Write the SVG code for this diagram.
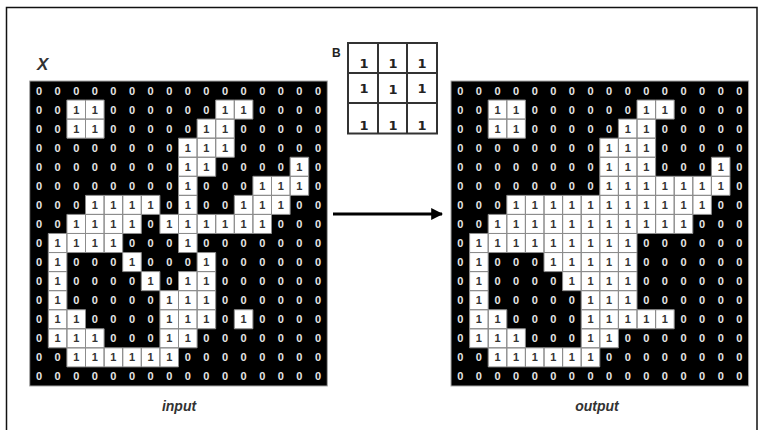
<svg xmlns="http://www.w3.org/2000/svg" width="764" height="430" viewBox="0 0 764 430">
<style>
.g text{font-family:"Liberation Sans",Arial,sans-serif;font-size:11px;font-weight:bold;fill:#e6e6e6;text-anchor:middle}
.g .o{fill:#333;font-weight:bold}
.bg{fill:#000;stroke:#a8a8a8;stroke-width:1}
.cells{fill:#fff;stroke:#8c8c8c;stroke-width:1}
.lbl{font-family:"Liberation Sans",Arial,sans-serif;font-weight:bold;font-style:italic;fill:#333}
.bl{font-family:"Liberation Sans",Arial,sans-serif;font-weight:bold;font-size:12px;fill:#222}
.k text{font-family:"DejaVu Sans","Liberation Sans",sans-serif;font-size:13px;font-weight:bold;fill:#222;text-anchor:middle}
</style>
<defs>
<marker id="ah" viewBox="0 0 10 10" refX="9" refY="5" markerWidth="4" markerHeight="4" orient="auto" markerUnits="strokeWidth">
<path d="M0 0L10 5L0 10z" fill="#000"/>
</marker>
</defs>
<rect x="6.5" y="7.5" width="750.5" height="440" fill="#fff" stroke="#111" stroke-width="1.5"/>
<text class="lbl" x="37" y="70" font-size="17">X</text>
<text class="bl" x="332" y="57">B</text>
<g id="kernel-B" class="k">
<rect x="348" y="43" width="89" height="90.5" fill="#fff" stroke="#333" stroke-width="2"/>
<path d="M378 43V133.5M407 43V133.5M348 73H437M348 103H437" stroke="#333" stroke-width="2" fill="none"/>
<text x="364" y="68">1</text><text x="393" y="68">1</text><text x="422" y="68">1</text>
<text x="364" y="93">1</text><text x="393" y="94">1</text><text x="422" y="93">1</text>
<text x="364" y="129.5">1</text><text x="393" y="129.5">1</text><text x="422" y="129.5">1</text>
</g>
<g id="input-grid" class="g" transform="translate(29.7,81)">
<rect class="bg" x="0" y="0" width="297.6" height="305"/>
<path class="cells" d="M37.2 19.06h18.6v19.06h-18.6zM55.8 19.06h18.6v19.06h-18.6zM186 19.06h18.6v19.06h-18.6zM204.6 19.06h18.6v19.06h-18.6z
M37.2 38.12h18.6v19.06h-18.6zM55.8 38.12h18.6v19.06h-18.6zM167.4 38.12h18.6v19.06h-18.6zM186 38.12h18.6v19.06h-18.6z
M148.8 57.18h18.6v19.06h-18.6zM167.4 57.18h18.6v19.06h-18.6zM186 57.18h18.6v19.06h-18.6z
M148.8 76.24h18.6v19.06h-18.6zM167.4 76.24h18.6v19.06h-18.6zM260.4 76.24h18.6v19.06h-18.6z
M148.8 95.3h18.6v19.06h-18.6zM223.2 95.3h18.6v19.06h-18.6zM241.8 95.3h18.6v19.06h-18.6zM260.4 95.3h18.6v19.06h-18.6z
M55.8 114.36h18.6v19.06h-18.6zM74.4 114.36h18.6v19.06h-18.6zM93 114.36h18.6v19.06h-18.6zM111.6 114.36h18.6v19.06h-18.6zM148.8 114.36h18.6v19.06h-18.6zM204.6 114.36h18.6v19.06h-18.6zM223.2 114.36h18.6v19.06h-18.6zM241.8 114.36h18.6v19.06h-18.6z
M37.2 133.42h18.6v19.06h-18.6zM55.8 133.42h18.6v19.06h-18.6zM74.4 133.42h18.6v19.06h-18.6zM93 133.42h18.6v19.06h-18.6zM130.2 133.42h18.6v19.06h-18.6zM148.8 133.42h18.6v19.06h-18.6zM167.4 133.42h18.6v19.06h-18.6zM186 133.42h18.6v19.06h-18.6zM204.6 133.42h18.6v19.06h-18.6zM223.2 133.42h18.6v19.06h-18.6z
M18.6 152.48h18.6v19.06h-18.6zM37.2 152.48h18.6v19.06h-18.6zM55.8 152.48h18.6v19.06h-18.6zM74.4 152.48h18.6v19.06h-18.6zM148.8 152.48h18.6v19.06h-18.6z
M18.6 171.54h18.6v19.06h-18.6zM93 171.54h18.6v19.06h-18.6zM167.4 171.54h18.6v19.06h-18.6z
M18.6 190.6h18.6v19.06h-18.6zM111.6 190.6h18.6v19.06h-18.6zM148.8 190.6h18.6v19.06h-18.6zM167.4 190.6h18.6v19.06h-18.6z
M18.6 209.66h18.6v19.06h-18.6zM130.2 209.66h18.6v19.06h-18.6zM148.8 209.66h18.6v19.06h-18.6zM167.4 209.66h18.6v19.06h-18.6z
M18.6 228.72h18.6v19.06h-18.6zM37.2 228.72h18.6v19.06h-18.6zM130.2 228.72h18.6v19.06h-18.6zM148.8 228.72h18.6v19.06h-18.6zM167.4 228.72h18.6v19.06h-18.6zM204.6 228.72h18.6v19.06h-18.6z
M18.6 247.78h18.6v19.06h-18.6zM37.2 247.78h18.6v19.06h-18.6zM55.8 247.78h18.6v19.06h-18.6zM130.2 247.78h18.6v19.06h-18.6zM148.8 247.78h18.6v19.06h-18.6z
M37.2 266.84h18.6v19.06h-18.6zM55.8 266.84h18.6v19.06h-18.6zM74.4 266.84h18.6v19.06h-18.6zM93 266.84h18.6v19.06h-18.6zM111.6 266.84h18.6v19.06h-18.6zM130.2 266.84h18.6v19.06h-18.6z"/>
<text x="9.3 27.9 46.5 65.1 83.7 102.3 120.9 139.5 158.1 176.7 195.3 213.9 232.5 251.1 269.7 288.3" y="13.5">0000000000000000</text>
<text x="9.3 27.9 46.5 65.1 83.7 102.3 120.9 139.5 158.1 176.7 195.3 213.9 232.5 251.1 269.7 288.3" y="32.56">00<tspan class="o">11</tspan>000000<tspan class="o">11</tspan>0000</text>
<text x="9.3 27.9 46.5 65.1 83.7 102.3 120.9 139.5 158.1 176.7 195.3 213.9 232.5 251.1 269.7 288.3" y="51.62">00<tspan class="o">11</tspan>00000<tspan class="o">11</tspan>00000</text>
<text x="9.3 27.9 46.5 65.1 83.7 102.3 120.9 139.5 158.1 176.7 195.3 213.9 232.5 251.1 269.7 288.3" y="70.68">00000000<tspan class="o">111</tspan>00000</text>
<text x="9.3 27.9 46.5 65.1 83.7 102.3 120.9 139.5 158.1 176.7 195.3 213.9 232.5 251.1 269.7 288.3" y="89.74">00000000<tspan class="o">11</tspan>0000<tspan class="o">1</tspan>0</text>
<text x="9.3 27.9 46.5 65.1 83.7 102.3 120.9 139.5 158.1 176.7 195.3 213.9 232.5 251.1 269.7 288.3" y="108.8">00000000<tspan class="o">1</tspan>000<tspan class="o">111</tspan>0</text>
<text x="9.3 27.9 46.5 65.1 83.7 102.3 120.9 139.5 158.1 176.7 195.3 213.9 232.5 251.1 269.7 288.3" y="127.86">000<tspan class="o">1111</tspan>0<tspan class="o">1</tspan>00<tspan class="o">111</tspan>00</text>
<text x="9.3 27.9 46.5 65.1 83.7 102.3 120.9 139.5 158.1 176.7 195.3 213.9 232.5 251.1 269.7 288.3" y="146.92">00<tspan class="o">1111</tspan>0<tspan class="o">111111</tspan>000</text>
<text x="9.3 27.9 46.5 65.1 83.7 102.3 120.9 139.5 158.1 176.7 195.3 213.9 232.5 251.1 269.7 288.3" y="165.98">0<tspan class="o">1111</tspan>000<tspan class="o">1</tspan>0000000</text>
<text x="9.3 27.9 46.5 65.1 83.7 102.3 120.9 139.5 158.1 176.7 195.3 213.9 232.5 251.1 269.7 288.3" y="185.04">0<tspan class="o">1</tspan>000<tspan class="o">1</tspan>000<tspan class="o">1</tspan>000000</text>
<text x="9.3 27.9 46.5 65.1 83.7 102.3 120.9 139.5 158.1 176.7 195.3 213.9 232.5 251.1 269.7 288.3" y="204.1">0<tspan class="o">1</tspan>0000<tspan class="o">1</tspan>0<tspan class="o">11</tspan>000000</text>
<text x="9.3 27.9 46.5 65.1 83.7 102.3 120.9 139.5 158.1 176.7 195.3 213.9 232.5 251.1 269.7 288.3" y="223.16">0<tspan class="o">1</tspan>00000<tspan class="o">111</tspan>000000</text>
<text x="9.3 27.9 46.5 65.1 83.7 102.3 120.9 139.5 158.1 176.7 195.3 213.9 232.5 251.1 269.7 288.3" y="242.22">0<tspan class="o">11</tspan>0000<tspan class="o">111</tspan>0<tspan class="o">1</tspan>0000</text>
<text x="9.3 27.9 46.5 65.1 83.7 102.3 120.9 139.5 158.1 176.7 195.3 213.9 232.5 251.1 269.7 288.3" y="261.28">0<tspan class="o">111</tspan>000<tspan class="o">11</tspan>0000000</text>
<text x="9.3 27.9 46.5 65.1 83.7 102.3 120.9 139.5 158.1 176.7 195.3 213.9 232.5 251.1 269.7 288.3" y="280.34">00<tspan class="o">111111</tspan>00000000</text>
<text x="9.3 27.9 46.5 65.1 83.7 102.3 120.9 139.5 158.1 176.7 195.3 213.9 232.5 251.1 269.7 288.3" y="299.4">0000000000000000</text>
</g>
<g id="output-grid" class="g" transform="translate(451,81)">
<rect class="bg" x="0" y="0" width="297.6" height="305"/>
<path class="cells" d="M37.2 19.06h18.6v19.06h-18.6zM55.8 19.06h18.6v19.06h-18.6zM186 19.06h18.6v19.06h-18.6zM204.6 19.06h18.6v19.06h-18.6z
M37.2 38.12h18.6v19.06h-18.6zM55.8 38.12h18.6v19.06h-18.6zM167.4 38.12h18.6v19.06h-18.6zM186 38.12h18.6v19.06h-18.6z
M148.8 57.18h18.6v19.06h-18.6zM167.4 57.18h18.6v19.06h-18.6zM186 57.18h18.6v19.06h-18.6z
M148.8 76.24h18.6v19.06h-18.6zM167.4 76.24h18.6v19.06h-18.6zM186 76.24h18.6v19.06h-18.6zM260.4 76.24h18.6v19.06h-18.6z
M148.8 95.3h18.6v19.06h-18.6zM167.4 95.3h18.6v19.06h-18.6zM186 95.3h18.6v19.06h-18.6zM204.6 95.3h18.6v19.06h-18.6zM223.2 95.3h18.6v19.06h-18.6zM241.8 95.3h18.6v19.06h-18.6zM260.4 95.3h18.6v19.06h-18.6z
M55.8 114.36h18.6v19.06h-18.6zM74.4 114.36h18.6v19.06h-18.6zM93 114.36h18.6v19.06h-18.6zM111.6 114.36h18.6v19.06h-18.6zM130.2 114.36h18.6v19.06h-18.6zM148.8 114.36h18.6v19.06h-18.6zM167.4 114.36h18.6v19.06h-18.6zM186 114.36h18.6v19.06h-18.6zM204.6 114.36h18.6v19.06h-18.6zM223.2 114.36h18.6v19.06h-18.6zM241.8 114.36h18.6v19.06h-18.6z
M37.2 133.42h18.6v19.06h-18.6zM55.8 133.42h18.6v19.06h-18.6zM74.4 133.42h18.6v19.06h-18.6zM93 133.42h18.6v19.06h-18.6zM111.6 133.42h18.6v19.06h-18.6zM130.2 133.42h18.6v19.06h-18.6zM148.8 133.42h18.6v19.06h-18.6zM167.4 133.42h18.6v19.06h-18.6zM186 133.42h18.6v19.06h-18.6zM204.6 133.42h18.6v19.06h-18.6zM223.2 133.42h18.6v19.06h-18.6z
M18.6 152.48h18.6v19.06h-18.6zM37.2 152.48h18.6v19.06h-18.6zM55.8 152.48h18.6v19.06h-18.6zM74.4 152.48h18.6v19.06h-18.6zM93 152.48h18.6v19.06h-18.6zM111.6 152.48h18.6v19.06h-18.6zM130.2 152.48h18.6v19.06h-18.6zM148.8 152.48h18.6v19.06h-18.6zM167.4 152.48h18.6v19.06h-18.6z
M18.6 171.54h18.6v19.06h-18.6zM93 171.54h18.6v19.06h-18.6zM111.6 171.54h18.6v19.06h-18.6zM130.2 171.54h18.6v19.06h-18.6zM148.8 171.54h18.6v19.06h-18.6zM167.4 171.54h18.6v19.06h-18.6z
M18.6 190.6h18.6v19.06h-18.6zM111.6 190.6h18.6v19.06h-18.6zM130.2 190.6h18.6v19.06h-18.6zM148.8 190.6h18.6v19.06h-18.6zM167.4 190.6h18.6v19.06h-18.6z
M18.6 209.66h18.6v19.06h-18.6zM130.2 209.66h18.6v19.06h-18.6zM148.8 209.66h18.6v19.06h-18.6zM167.4 209.66h18.6v19.06h-18.6z
M18.6 228.72h18.6v19.06h-18.6zM37.2 228.72h18.6v19.06h-18.6zM130.2 228.72h18.6v19.06h-18.6zM148.8 228.72h18.6v19.06h-18.6zM167.4 228.72h18.6v19.06h-18.6zM186 228.72h18.6v19.06h-18.6zM204.6 228.72h18.6v19.06h-18.6z
M18.6 247.78h18.6v19.06h-18.6zM37.2 247.78h18.6v19.06h-18.6zM55.8 247.78h18.6v19.06h-18.6zM130.2 247.78h18.6v19.06h-18.6zM148.8 247.78h18.6v19.06h-18.6z
M37.2 266.84h18.6v19.06h-18.6zM55.8 266.84h18.6v19.06h-18.6zM74.4 266.84h18.6v19.06h-18.6zM93 266.84h18.6v19.06h-18.6zM111.6 266.84h18.6v19.06h-18.6zM130.2 266.84h18.6v19.06h-18.6z"/>
<text x="9.3 27.9 46.5 65.1 83.7 102.3 120.9 139.5 158.1 176.7 195.3 213.9 232.5 251.1 269.7 288.3" y="13.5">0000000000000000</text>
<text x="9.3 27.9 46.5 65.1 83.7 102.3 120.9 139.5 158.1 176.7 195.3 213.9 232.5 251.1 269.7 288.3" y="32.56">00<tspan class="o">11</tspan>000000<tspan class="o">11</tspan>0000</text>
<text x="9.3 27.9 46.5 65.1 83.7 102.3 120.9 139.5 158.1 176.7 195.3 213.9 232.5 251.1 269.7 288.3" y="51.62">00<tspan class="o">11</tspan>00000<tspan class="o">11</tspan>00000</text>
<text x="9.3 27.9 46.5 65.1 83.7 102.3 120.9 139.5 158.1 176.7 195.3 213.9 232.5 251.1 269.7 288.3" y="70.68">00000000<tspan class="o">111</tspan>00000</text>
<text x="9.3 27.9 46.5 65.1 83.7 102.3 120.9 139.5 158.1 176.7 195.3 213.9 232.5 251.1 269.7 288.3" y="89.74">00000000<tspan class="o">111</tspan>000<tspan class="o">1</tspan>0</text>
<text x="9.3 27.9 46.5 65.1 83.7 102.3 120.9 139.5 158.1 176.7 195.3 213.9 232.5 251.1 269.7 288.3" y="108.8">00000000<tspan class="o">1111111</tspan>0</text>
<text x="9.3 27.9 46.5 65.1 83.7 102.3 120.9 139.5 158.1 176.7 195.3 213.9 232.5 251.1 269.7 288.3" y="127.86">000<tspan class="o">11111111111</tspan>00</text>
<text x="9.3 27.9 46.5 65.1 83.7 102.3 120.9 139.5 158.1 176.7 195.3 213.9 232.5 251.1 269.7 288.3" y="146.92">00<tspan class="o">11111111111</tspan>000</text>
<text x="9.3 27.9 46.5 65.1 83.7 102.3 120.9 139.5 158.1 176.7 195.3 213.9 232.5 251.1 269.7 288.3" y="165.98">0<tspan class="o">111111111</tspan>000000</text>
<text x="9.3 27.9 46.5 65.1 83.7 102.3 120.9 139.5 158.1 176.7 195.3 213.9 232.5 251.1 269.7 288.3" y="185.04">0<tspan class="o">1</tspan>000<tspan class="o">11111</tspan>000000</text>
<text x="9.3 27.9 46.5 65.1 83.7 102.3 120.9 139.5 158.1 176.7 195.3 213.9 232.5 251.1 269.7 288.3" y="204.1">0<tspan class="o">1</tspan>0000<tspan class="o">1111</tspan>000000</text>
<text x="9.3 27.9 46.5 65.1 83.7 102.3 120.9 139.5 158.1 176.7 195.3 213.9 232.5 251.1 269.7 288.3" y="223.16">0<tspan class="o">1</tspan>00000<tspan class="o">111</tspan>000000</text>
<text x="9.3 27.9 46.5 65.1 83.7 102.3 120.9 139.5 158.1 176.7 195.3 213.9 232.5 251.1 269.7 288.3" y="242.22">0<tspan class="o">11</tspan>0000<tspan class="o">11111</tspan>0000</text>
<text x="9.3 27.9 46.5 65.1 83.7 102.3 120.9 139.5 158.1 176.7 195.3 213.9 232.5 251.1 269.7 288.3" y="261.28">0<tspan class="o">111</tspan>000<tspan class="o">11</tspan>0000000</text>
<text x="9.3 27.9 46.5 65.1 83.7 102.3 120.9 139.5 158.1 176.7 195.3 213.9 232.5 251.1 269.7 288.3" y="280.34">00<tspan class="o">111111</tspan>00000000</text>
<text x="9.3 27.9 46.5 65.1 83.7 102.3 120.9 139.5 158.1 176.7 195.3 213.9 232.5 251.1 269.7 288.3" y="299.4">0000000000000000</text>
</g>
<g id="connectors">
<line x1="333" y1="214" x2="442" y2="214" stroke="#000" stroke-width="3" marker-end="url(#ah)"/>
</g>
<text class="lbl" x="179" y="411" font-size="14" text-anchor="middle">input</text>
<text class="lbl" x="597" y="411" font-size="14" text-anchor="middle">output</text>
</svg>
